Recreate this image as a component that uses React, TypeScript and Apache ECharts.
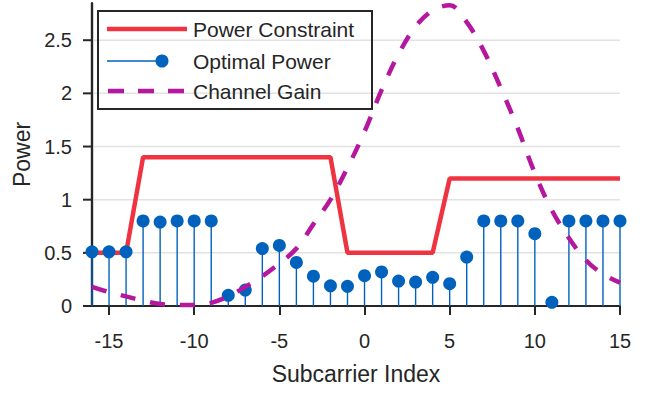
import React, { useEffect, useRef } from "react";
import * as echarts from "echarts";

const subcarriers = [-16, -15, -14, -13, -12, -11, -10, -9, -8, -7, -6, -5, -4, -3, -2, -1, 0, 1, 2, 3, 4, 5, 6, 7, 8, 9, 10, 11, 12, 13, 14, 15];
const powerConstraint = [0.5, 0.5, 0.5, 1.4, 1.4, 1.4, 1.4, 1.4, 1.4, 1.4, 1.4, 1.4, 1.4, 1.4, 1.4, 0.5, 0.5, 0.5, 0.5, 0.5, 0.5, 1.2, 1.2, 1.2, 1.2, 1.2, 1.2, 1.2, 1.2, 1.2, 1.2, 1.2];
const optimalPower = [0.51, 0.51, 0.51, 0.8, 0.79, 0.8, 0.8, 0.8, 0.1, 0.15, 0.54, 0.57, 0.41, 0.28, 0.19, 0.185, 0.285, 0.32, 0.235, 0.225, 0.27, 0.21, 0.46, 0.8, 0.8, 0.8, 0.68, 0.035, 0.8, 0.8, 0.8, 0.8];
const channelGain = [0.18, 0.13, 0.09, 0.05, 0.02, 0.01, 0.01, 0.03, 0.09, 0.18, 0.28, 0.4, 0.54, 0.77, 1.0, 1.3, 1.64, 2.03, 2.37, 2.63, 2.78, 2.83, 2.67, 2.4, 2.05, 1.67, 1.25, 0.9, 0.64, 0.43, 0.3, 0.22];
const xTicks = [-15, -10, -5, 0, 5, 10, 15];
const yTicks = [0, 0.5, 1, 1.5, 2, 2.5];
const legendNames = ["Power Constraint", "Optimal Power", "Channel Gain"];

const X_MIN = -16;
const X_MAX = 15;
const Y_MAX = 2.85;
const FONT = "'Liberation Sans', Arial, Helvetica, sans-serif";
const TEXT = "#262626";
const RED = "#ef3340";
const BLUE = "#0062bd";
const MAGENTA = "#b5179e";

export default function App() {
  const ref = useRef<HTMLDivElement>(null);
  useEffect(() => {
    if (!ref.current) return;
    const chart = echarts.init(ref.current, undefined, { renderer: "svg" });
    const pair = (vals: number[]) => subcarriers.map((x, i) => [x, vals[i]]);
    chart.setOption({
      animation: false,
      backgroundColor: "#ffffff",
      grid: { left: 92, right: 31, top: 3, bottom: 88, containLabel: false },
      xAxis: {
        type: "value",
        min: X_MIN,
        max: X_MAX,
        name: "Subcarrier Index",
        nameLocation: "middle",
        nameGap: 56,
        nameTextStyle: { fontFamily: FONT, fontSize: 23, color: TEXT },
        axisLine: { show: true, onZero: false, lineStyle: { color: TEXT, width: 2 } },
        axisTick: { show: true, inside: false, length: 9, customValues: xTicks, lineStyle: { color: TEXT, width: 2 } },
        axisLabel: { customValues: xTicks, margin: 25, fontFamily: FONT, fontSize: 20, color: TEXT },
        splitLine: { show: false },
      },
      yAxis: {
        type: "value",
        min: 0,
        max: Y_MAX,
        interval: 0.5,
        name: "Power",
        nameLocation: "middle",
        nameGap: 57,
        nameTextStyle: { fontFamily: FONT, fontSize: 23, color: TEXT },
        axisLine: { show: true, onZero: false, lineStyle: { color: TEXT, width: 2.2 } },
        axisTick: { show: false },
        axisLabel: { showMaxLabel: false, margin: 20, fontFamily: FONT, fontSize: 20, color: TEXT },
        splitLine: { show: false },
      },
      series: [
        {
          name: "grid",
          type: "custom",
          data: yTicks.map((v) => [X_MIN, v]),
          clip: false,
          silent: true,
          z: 1,
          renderItem: (params: any, api: any) => {
            const v = api.value(1);
            const p0 = api.coord([X_MIN, v]);
            const p1 = api.coord([X_MAX, v]);
            const children: any[] = [];
            if (v > 0) {
              children.push({
                type: "line",
                shape: { x1: p0[0], y1: p0[1], x2: p1[0], y2: p1[1] },
                style: { stroke: "#e2e2e2", lineWidth: 1.5 },
              });
            } else {
              const top = api.coord([X_MIN, Y_MAX]);
              children.push({
                type: "line",
                shape: { x1: p0[0], y1: p0[1], x2: top[0], y2: top[1] },
                style: { stroke: TEXT, lineWidth: 2.2 },
                z2: 5,
              });
            }
            children.push({
              type: "line",
              shape: { x1: p0[0] - 9, y1: p0[1], x2: p0[0], y2: p0[1] },
              style: { stroke: TEXT, lineWidth: 2 },
              z2: 5,
            });
            return { type: "group", children };
          },
        },
        {
          name: legendNames[0],
          type: "line",
          data: pair(powerConstraint),
          showSymbol: false,
          lineStyle: { color: RED, width: 4.5 },
          z: 2,
        },
        {
          name: legendNames[1] + " stems",
          type: "bar",
          data: pair(optimalPower),
          barWidth: 1.4,
          itemStyle: { color: BLUE },
          z: 3,
        },
        {
          name: legendNames[1],
          type: "scatter",
          data: pair(optimalPower),
          symbol: "circle",
          symbolSize: 13,
          itemStyle: { color: BLUE, opacity: 1 },
          z: 4,
        },
        {
          name: legendNames[2],
          type: "line",
          data: pair(channelGain),
          showSymbol: false,
          smooth: 0.35,
          lineStyle: { color: MAGENTA, width: 4.5, type: [15, 15] },
          z: 5,
        },
      ],
      graphic: [
        { type: "rect", shape: { x: 98, y: 11, width: 274, height: 98 }, style: { fill: "none", stroke: TEXT, lineWidth: 2 }, z: 10 },
        { type: "line", shape: { x1: 107, y1: 29, x2: 187, y2: 29 }, style: { stroke: RED, lineWidth: 4.5 }, z: 10 },
        { type: "text", x: 193, y: 29, style: { text: legendNames[0], fontFamily: FONT, fontSize: 21, fill: TEXT, verticalAlign: "middle" }, z: 10 },
        { type: "line", shape: { x1: 107, y1: 61, x2: 162, y2: 61 }, style: { stroke: BLUE, lineWidth: 1.4 }, z: 10 },
        { type: "circle", shape: { cx: 162, cy: 61, r: 6.5 }, style: { fill: BLUE }, z: 10 },
        { type: "text", x: 193, y: 61, style: { text: legendNames[1], fontFamily: FONT, fontSize: 21, fill: TEXT, verticalAlign: "middle" }, z: 10 },
        { type: "line", shape: { x1: 108, y1: 91, x2: 187, y2: 91 }, style: { stroke: MAGENTA, lineWidth: 4.5, lineDash: [16, 14] }, z: 10 },
        { type: "text", x: 193, y: 91, style: { text: legendNames[2], fontFamily: FONT, fontSize: 21, fill: TEXT, verticalAlign: "middle" }, z: 10 },
      ],
    });
    return () => chart.dispose();
  }, []);
  return <div ref={ref} style={{ position: "fixed", left: 0, top: 0, width: 651, height: 394 }} />;
}
